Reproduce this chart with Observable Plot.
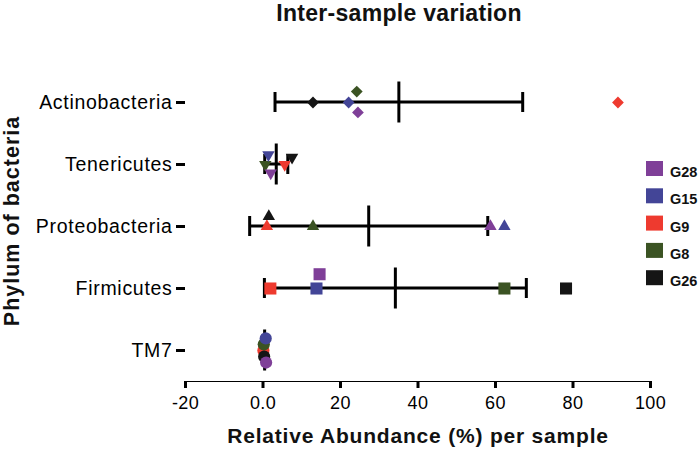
<!DOCTYPE html>
<html>
<head>
<meta charset="utf-8">
<script src="https://cdn.jsdelivr.net/npm/d3@7"></script>
<script src="https://cdn.jsdelivr.net/npm/@observablehq/plot@0.6"></script>
<style>
  body { margin: 0; background: #fff; }
  #wrap { position: relative; width: 700px; height: 454px; background: #fff; }
  #wrap > svg { position: absolute; left: 0; top: 0; }
  g[aria-label^="fy-axis"] text { font-size: 19.5px; letter-spacing: 0.7px; }
  g[aria-label^="x-axis"] text { font-size: 18px; letter-spacing: 0.4px; }
  g[aria-label*="axis"] path, g[aria-label*="axis"] line { stroke-width: 3px; }
</style>
</head>
<body>
<div id="wrap"></div>
<script>
// ---- data ----
const phyla = ["Actinobacteria", "Tenericutes", "Proteobacteria", "Firmicutes", "TM7"];
const samples = ["G28", "G15", "G9", "G8", "G26"];
const sampleColors = ["#7f3f98", "#434597", "#ee3a2f", "#3b5323", "#151515"];
// relative abundance (%) per sample, in the order of `samples`
const actinobacteria = [24.5, 22.1, 91.6, 24.2, 12.9];
const tenericutes    = [2.0, 1.4, 5.6, 0.6, 7.5];
const proteobacteria = [58.7, 62.3, 1.0, 12.9, 1.5];
const firmicutes     = [14.6, 13.8, 1.9, 62.3, 78.2];
const tm7            = [0.8, 0.7, 0.1, 0.2, 0.3];
const xTicks = [-20, 0, 20, 40, 60, 80, 100];
const xTickLabels = ["-20", "0.0", "20", "40", "60", "80", "100"];

const abundance = [actinobacteria, tenericutes, proteobacteria, firmicutes, tm7];
const rows = phyla.flatMap((p, i) => samples.map((s, j) => ({phylum: p, sample: s, value: abundance[i][j]})));
// mean ± SD per phylum
const stats = phyla.map((p, i) => {
  const m = d3.mean(abundance[i]);
  const sd = d3.deviation(abundance[i]);
  return {phylum: p, mean: m, lo: m - sd, hi: m + sd};
});

// ---- marker styles ----
const triangleDown = {
  draw(ctx, size) {
    const y = -Math.sqrt(size / (Math.sqrt(3) * 3));
    ctx.moveTo(0, -y * 2);
    ctx.lineTo(-Math.sqrt(3) * y, y);
    ctx.lineTo(Math.sqrt(3) * y, y);
    ctx.closePath();
  }
};
const markerStyle = {
  Actinobacteria: {symbol: "diamond2", r: 5.3, padding: 3},
  Tenericutes:    {symbol: triangleDown, r: 4.6, padding: 1},
  Proteobacteria: {symbol: "triangle", r: 4.6, padding: 1},
  Firmicutes:     {symbol: "square", r: 6.8, padding: 1},
  TM7:            {symbol: "circle", r: 6.1, padding: -6}
};

const dotMarks = phyla.map(p => {
  const st = markerStyle[p];
  return Plot.dot(rows.filter(d => d.phylum === p), Plot.dodgeY({
    anchor: "middle",
    padding: st.padding,
    x: "value",
    fy: "phylum",
    fill: "sample",
    symbol: st.symbol,
    r: st.r,
    sort: "value"
  }));
});

const chart = Plot.plot({
  width: 700,
  height: 454,
  marginLeft: 185,
  marginRight: 50,
  marginTop: 71,
  marginBottom: 73,
  style: {fontFamily: "'Liberation Sans', Arial, sans-serif", fontSize: "18px", color: "#000", background: "transparent"},
  x: {domain: [-20, 100], ticks: xTicks, tickFormat: (d) => xTickLabels[xTicks.indexOf(d)], line: true, tickSize: 7, tickPadding: 8, label: null},
  fy: {domain: phyla, padding: 0, line: true, tickSize: 9, tickPadding: 4, label: null},
  color: {domain: samples, range: sampleColors},
  marks: [
    Plot.barX(stats, {x1: "lo", x2: "hi", fy: "phylum", fill: "#000", insetTop: 29.5, insetBottom: 29.5}),
    Plot.tickX(stats, {x: "lo", fy: "phylum", stroke: "#000", strokeWidth: 3, insetTop: 21, insetBottom: 21}),
    Plot.tickX(stats, {x: "hi", fy: "phylum", stroke: "#000", strokeWidth: 3, insetTop: 21, insetBottom: 21}),
    Plot.tickX(stats, {x: "mean", fy: "phylum", stroke: "#000", strokeWidth: 3, insetTop: 10.5, insetBottom: 10.5}),
    ...dotMarks
  ]
});
document.getElementById("wrap").appendChild(chart);

// ---- titles and legend ----
const ov = d3.select("#wrap").append("svg").attr("width", 700).attr("height", 454).style("pointer-events", "none");
const FONT = "'Liberation Sans', Arial, sans-serif";
ov.append("text").attr("x", 399).attr("y", 21).attr("text-anchor", "middle")
  .style("font", `bold 23px ${FONT}`).style("letter-spacing", "0.3px").attr("fill", "#111").text("Inter-sample variation");
ov.append("text").attr("x", 418).attr("y", 443).attr("text-anchor", "middle")
  .style("font", `bold 21px ${FONT}`).style("letter-spacing", "0.8px").attr("fill", "#111")
  .text("Relative Abundance (%) per sample");
ov.append("text").attr("transform", "translate(19,221) rotate(-90)").attr("text-anchor", "middle")
  .style("font", `bold 21.5px ${FONT}`).style("letter-spacing", "1px").attr("fill", "#111")
  .text("Phylum of bacteria");

const colorScale = chart.scale("color");
const lg = ov.append("g").attr("transform", "translate(646,161)");
colorScale.domain.forEach((s, i) => {
  const g = lg.append("g").attr("transform", `translate(0,${i * 27.3})`);
  g.append("rect").attr("width", 17).attr("height", 15).attr("fill", colorScale.range[i]);
  g.append("text").attr("x", 24).attr("y", 16).style("font", `bold 14.5px ${FONT}`).attr("fill", "#111").text(s);
});
</script>
</body>
</html>
